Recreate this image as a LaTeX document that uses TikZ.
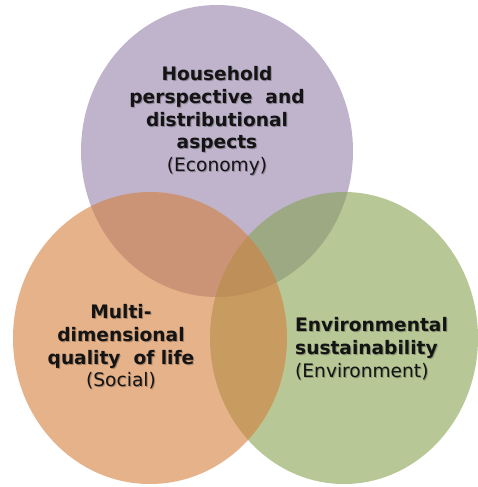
\documentclass[tikz,border=0pt]{standalone}
\usepackage{fontspec}
\setmainfont{DejaVu Sans}
\definecolor{cpurple}{RGB}{150,130,173}
\definecolor{cgreen}{RGB}{135,163,80}
\definecolor{corange}{RGB}{212,127,60}
\definecolor{ctext}{RGB}{20,20,20}
\tikzset{
  venn/.style={fill opacity=0.6},
  lbl/.style={inner sep=0pt, text=ctext, font=\fontsize{18.6}{22.6}\selectfont\bfseries},
  lblshadow/.style={lbl, text=black, text opacity=0.25},
}
\begin{document}
\begin{tikzpicture}[x=1pt,y=-1pt]
\useasboundingbox (0,0) rectangle (477,487);
\fill[white] (0,0) rectangle (477,487);
% circles
\fill[venn, cpurple] (217,151) ellipse [x radius=136pt, y radius=146pt];
\fill[venn, cgreen] (344,338) ellipse [x radius=134pt, y radius=146pt];
\fill[venn, corange] (150,338) ellipse [x radius=137pt, y radius=146pt];
% text shadows
\node[lblshadow, align=center, anchor=north] (tops) at (218,67.5) {Household\\perspective\ \ and\\distributional\\aspects\\{\mdseries (Economy)}};
\node[lblshadow, align=center, anchor=north] (lefts) at (122,305.5) {Multi-\\dimensional\\quality\ \ of life\\{\mdseries (Social)}};
\node[lblshadow, align=left, anchor=north west] (rights) at (296,318.5) {Environmental\\sustainability\\{\mdseries (Environment)}};
% texts
\node[lbl, align=center, anchor=north] (top) at (217,66.5) {Household\\perspective\ \ and\\distributional\\aspects\\{\mdseries (Economy)}};
\node[lbl, align=center, anchor=north] (left) at (121,304.5) {Multi-\\dimensional\\quality\ \ of life\\{\mdseries (Social)}};
\node[lbl, align=left, anchor=north west] (right) at (295,317.5) {Environmental\\sustainability\\{\mdseries (Environment)}};
\end{tikzpicture}
\end{document}
